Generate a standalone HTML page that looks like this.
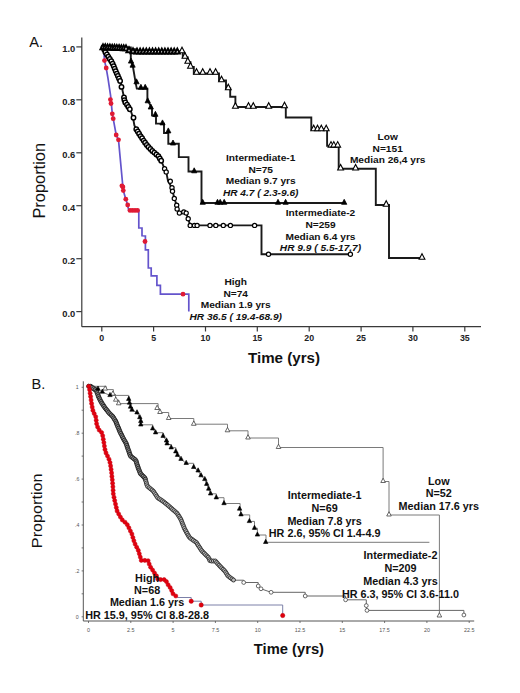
<!DOCTYPE html>
<html><head><meta charset="utf-8"><style>
html,body{margin:0;padding:0;background:#fff;}
svg{display:block;}
text{font-family:"Liberation Sans", sans-serif;}
</style></head><body>
<svg width="520" height="693" viewBox="0 0 520 693">
<rect width="520" height="693" fill="#fff"/>
<line x1="81.8" y1="37.5" x2="81.8" y2="326.7" stroke="#3a3a3a" stroke-width="1.2"/>
<line x1="81.8" y1="326.7" x2="481.0" y2="326.7" stroke="#3a3a3a" stroke-width="1.2"/>
<line x1="76.3" y1="311.6" x2="81.8" y2="311.6" stroke="#3a3a3a" stroke-width="1.2"/>
<text x="75.3" y="316.6" font-size="9.6" font-weight="bold" font-style="normal" text-anchor="end" fill="#222" textLength="13.0" lengthAdjust="spacingAndGlyphs">0.0</text>
<line x1="76.3" y1="258.7" x2="81.8" y2="258.7" stroke="#3a3a3a" stroke-width="1.2"/>
<text x="75.3" y="263.7" font-size="9.6" font-weight="bold" font-style="normal" text-anchor="end" fill="#222" textLength="13.0" lengthAdjust="spacingAndGlyphs">0.2</text>
<line x1="76.3" y1="205.7" x2="81.8" y2="205.7" stroke="#3a3a3a" stroke-width="1.2"/>
<text x="75.3" y="210.7" font-size="9.6" font-weight="bold" font-style="normal" text-anchor="end" fill="#222" textLength="13.0" lengthAdjust="spacingAndGlyphs">0.4</text>
<line x1="76.3" y1="152.8" x2="81.8" y2="152.8" stroke="#3a3a3a" stroke-width="1.2"/>
<text x="75.3" y="157.8" font-size="9.6" font-weight="bold" font-style="normal" text-anchor="end" fill="#222" textLength="13.0" lengthAdjust="spacingAndGlyphs">0.6</text>
<line x1="76.3" y1="99.8" x2="81.8" y2="99.8" stroke="#3a3a3a" stroke-width="1.2"/>
<text x="75.3" y="104.8" font-size="9.6" font-weight="bold" font-style="normal" text-anchor="end" fill="#222" textLength="13.0" lengthAdjust="spacingAndGlyphs">0.8</text>
<line x1="76.3" y1="46.9" x2="81.8" y2="46.9" stroke="#3a3a3a" stroke-width="1.2"/>
<text x="75.3" y="51.9" font-size="9.6" font-weight="bold" font-style="normal" text-anchor="end" fill="#222" textLength="13.0" lengthAdjust="spacingAndGlyphs">1.0</text>
<line x1="101.8" y1="326.7" x2="101.8" y2="331.5" stroke="#3a3a3a" stroke-width="1.2"/>
<text x="101.8" y="341.3" font-size="8.8" font-weight="bold" font-style="normal" text-anchor="middle" fill="#222">0</text>
<line x1="153.6" y1="326.7" x2="153.6" y2="331.5" stroke="#3a3a3a" stroke-width="1.2"/>
<text x="153.6" y="341.3" font-size="8.8" font-weight="bold" font-style="normal" text-anchor="middle" fill="#222">5</text>
<line x1="205.5" y1="326.7" x2="205.5" y2="331.5" stroke="#3a3a3a" stroke-width="1.2"/>
<text x="205.5" y="341.3" font-size="8.8" font-weight="bold" font-style="normal" text-anchor="middle" fill="#222">10</text>
<line x1="257.3" y1="326.7" x2="257.3" y2="331.5" stroke="#3a3a3a" stroke-width="1.2"/>
<text x="257.3" y="341.3" font-size="8.8" font-weight="bold" font-style="normal" text-anchor="middle" fill="#222">15</text>
<line x1="309.2" y1="326.7" x2="309.2" y2="331.5" stroke="#3a3a3a" stroke-width="1.2"/>
<text x="309.2" y="341.3" font-size="8.8" font-weight="bold" font-style="normal" text-anchor="middle" fill="#222">20</text>
<line x1="361.1" y1="326.7" x2="361.1" y2="331.5" stroke="#3a3a3a" stroke-width="1.2"/>
<text x="361.1" y="341.3" font-size="8.8" font-weight="bold" font-style="normal" text-anchor="middle" fill="#222">25</text>
<line x1="412.9" y1="326.7" x2="412.9" y2="331.5" stroke="#3a3a3a" stroke-width="1.2"/>
<text x="412.9" y="341.3" font-size="8.8" font-weight="bold" font-style="normal" text-anchor="middle" fill="#222">30</text>
<line x1="464.8" y1="326.7" x2="464.8" y2="331.5" stroke="#3a3a3a" stroke-width="1.2"/>
<text x="464.8" y="341.3" font-size="8.8" font-weight="bold" font-style="normal" text-anchor="middle" fill="#222">35</text>
<text x="29.2" y="46.9" font-size="14.6" font-weight="normal" font-style="normal" text-anchor="start" fill="#111">A.</text>
<text x="0.0" y="0.0" font-size="16.2" font-weight="normal" font-style="normal" text-anchor="middle" fill="#111" textLength="75.6" lengthAdjust="spacingAndGlyphs" transform="translate(45.2 180.8) rotate(-90)">Proportion</text>
<text x="248.0" y="363.4" font-size="14" font-weight="bold" font-style="normal" text-anchor="start" fill="#111" textLength="72.0" lengthAdjust="spacingAndGlyphs">Time (yrs)</text>
<path d="M103.5 47.2 L112.0 47.2 L112.0 47.8 L122.0 47.8 L122.0 49.2 L135.0 49.2 L135.0 51.4 L182.3 51.4 L182.3 51.6 L182.8 51.6 L182.8 57.2 L187.6 57.2 L187.6 62.2 L190.5 62.2 L190.5 67.0 L193.8 67.0 L193.8 73.5 L219.0 73.5 L219.0 80.4 L226.0 80.4 L226.0 88.5 L230.2 88.5 L230.2 96.7 L235.4 96.7 L235.4 107.0 L285.8 107.0 L285.8 117.5 L311.3 117.5 L311.3 129.4 L327.1 129.4 L327.1 145.8 L338.7 145.8 L338.7 168.8 L375.8 168.8 L375.8 205.0 L389.0 205.0 L389.0 258.0 L422.0 258.0" fill="none" stroke="#1a1a1a" stroke-width="1.9"/>
<path d="M103.5 47.2 L130.8 47.4 L130.8 60.0 L133.0 67.0 L135.7 83.2 L136.8 88.6 L147.4 88.6 L147.4 100.0 L152.0 108.0 L152.0 115.5 L156.0 116.5 L156.0 123.6 L164.0 123.6 L164.0 133.0 L168.3 133.0 L168.3 143.7 L178.8 143.7 L178.8 157.1 L188.5 157.1 L188.5 171.5 L201.5 171.5 L201.5 203.0 L345.4 203.0" fill="none" stroke="#1a1a1a" stroke-width="1.9"/>
<path d="M103.5 47.2 L104.9 51.5 L112.3 62.8 L116.2 72.3 L120.5 81.8 L121.8 87.0 L124.0 97.4 L124.6 101.5 L126.9 104.6 L130.8 110.8 L133.1 118.0 L134.4 125.4 L136.3 129.2 L140.5 136.0 L145.0 142.7 L149.0 147.5 L152.7 151.3 L158.5 156.2 L161.3 161.0 L164.6 168.8 L166.2 171.9 L168.0 181.0 L172.0 188.0 L174.3 198.4 L176.7 205.2 L179.4 213.0 L183.5 211.5 L186.2 213.1 L188.2 218.7 L190.2 225.4 L261.5 225.4 L261.5 254.2 L350.4 254.2" fill="none" stroke="#1a1a1a" stroke-width="1.9"/>
<path d="M103.5 47.2 L104.5 60.6 L106.2 68.0 L108.0 78.4 L110.6 95.7 L112.3 113.8 L113.2 118.7 L116.2 135.0 L118.5 139.8 L122.9 187.0 L123.3 190.6 L125.8 199.2 L127.7 205.0 L128.7 210.4 L138.8 210.4 L138.8 228.0 L142.0 228.0 L142.0 235.8 L145.4 236.0 L145.4 249.8 L148.3 249.8 L148.3 268.0 L151.2 268.0 L151.2 275.8 L156.9 275.8 L156.9 285.4 L160.4 285.4 L160.4 294.2 L188.8 294.2 L188.8 311.6" fill="none" stroke="#6454cc" stroke-width="1.7"/>
<circle cx="103.5" cy="47.2" r="2.2" fill="#fff" stroke="#000" stroke-width="1.5"/>
<circle cx="104.3" cy="49.8" r="2.2" fill="#fff" stroke="#000" stroke-width="1.5"/>
<circle cx="105.4" cy="52.2" r="2.2" fill="#fff" stroke="#000" stroke-width="1.5"/>
<circle cx="106.9" cy="54.5" r="2.2" fill="#fff" stroke="#000" stroke-width="1.5"/>
<circle cx="108.3" cy="56.8" r="2.2" fill="#fff" stroke="#000" stroke-width="1.5"/>
<circle cx="109.8" cy="59.0" r="2.2" fill="#fff" stroke="#000" stroke-width="1.5"/>
<circle cx="111.3" cy="61.3" r="2.2" fill="#fff" stroke="#000" stroke-width="1.5"/>
<circle cx="112.6" cy="63.6" r="2.2" fill="#fff" stroke="#000" stroke-width="1.5"/>
<circle cx="113.7" cy="66.1" r="2.2" fill="#fff" stroke="#000" stroke-width="1.5"/>
<circle cx="114.7" cy="68.6" r="2.2" fill="#fff" stroke="#000" stroke-width="1.5"/>
<circle cx="115.7" cy="71.1" r="2.2" fill="#fff" stroke="#000" stroke-width="1.5"/>
<circle cx="116.8" cy="73.6" r="2.2" fill="#fff" stroke="#000" stroke-width="1.5"/>
<circle cx="117.9" cy="76.0" r="2.2" fill="#fff" stroke="#000" stroke-width="1.5"/>
<circle cx="119.0" cy="78.5" r="2.2" fill="#fff" stroke="#000" stroke-width="1.5"/>
<circle cx="120.1" cy="81.0" r="2.2" fill="#fff" stroke="#000" stroke-width="1.5"/>
<circle cx="121.5" cy="86.9" r="2.2" fill="#fff" stroke="#000" stroke-width="1.5"/>
<circle cx="124.0" cy="97.4" r="2.2" fill="#fff" stroke="#000" stroke-width="1.5"/>
<circle cx="124.4" cy="100.1" r="2.2" fill="#fff" stroke="#000" stroke-width="1.5"/>
<circle cx="125.3" cy="102.5" r="2.2" fill="#fff" stroke="#000" stroke-width="1.5"/>
<circle cx="127.0" cy="104.7" r="2.2" fill="#fff" stroke="#000" stroke-width="1.5"/>
<circle cx="128.4" cy="107.0" r="2.2" fill="#fff" stroke="#000" stroke-width="1.5"/>
<circle cx="129.8" cy="109.3" r="2.2" fill="#fff" stroke="#000" stroke-width="1.5"/>
<circle cx="133.5" cy="117.7" r="2.2" fill="#fff" stroke="#000" stroke-width="1.5"/>
<circle cx="136.3" cy="129.2" r="2.2" fill="#fff" stroke="#000" stroke-width="1.5"/>
<circle cx="137.7" cy="131.5" r="2.2" fill="#fff" stroke="#000" stroke-width="1.5"/>
<circle cx="139.1" cy="133.8" r="2.2" fill="#fff" stroke="#000" stroke-width="1.5"/>
<circle cx="140.6" cy="136.1" r="2.2" fill="#fff" stroke="#000" stroke-width="1.5"/>
<circle cx="142.1" cy="138.3" r="2.2" fill="#fff" stroke="#000" stroke-width="1.5"/>
<circle cx="143.6" cy="140.6" r="2.2" fill="#fff" stroke="#000" stroke-width="1.5"/>
<circle cx="145.1" cy="142.8" r="2.2" fill="#fff" stroke="#000" stroke-width="1.5"/>
<circle cx="146.8" cy="144.9" r="2.2" fill="#fff" stroke="#000" stroke-width="1.5"/>
<circle cx="148.5" cy="147.0" r="2.2" fill="#fff" stroke="#000" stroke-width="1.5"/>
<circle cx="150.4" cy="148.9" r="2.2" fill="#fff" stroke="#000" stroke-width="1.5"/>
<circle cx="152.3" cy="150.9" r="2.2" fill="#fff" stroke="#000" stroke-width="1.5"/>
<circle cx="154.3" cy="152.6" r="2.2" fill="#fff" stroke="#000" stroke-width="1.5"/>
<circle cx="156.4" cy="154.4" r="2.2" fill="#fff" stroke="#000" stroke-width="1.5"/>
<circle cx="158.4" cy="156.1" r="2.2" fill="#fff" stroke="#000" stroke-width="1.5"/>
<circle cx="159.8" cy="158.4" r="2.2" fill="#fff" stroke="#000" stroke-width="1.5"/>
<circle cx="161.2" cy="160.8" r="2.2" fill="#fff" stroke="#000" stroke-width="1.5"/>
<circle cx="164.6" cy="168.8" r="2.1" fill="#fff" stroke="#000" stroke-width="1.2"/>
<circle cx="166.2" cy="171.9" r="2.1" fill="#fff" stroke="#000" stroke-width="1.2"/>
<circle cx="170.3" cy="181.3" r="2.1" fill="#fff" stroke="#000" stroke-width="1.2"/>
<circle cx="172.0" cy="187.7" r="2.1" fill="#fff" stroke="#000" stroke-width="1.2"/>
<circle cx="172.5" cy="191.3" r="2.1" fill="#fff" stroke="#000" stroke-width="1.2"/>
<circle cx="174.3" cy="198.4" r="2.1" fill="#fff" stroke="#000" stroke-width="1.2"/>
<circle cx="176.7" cy="205.2" r="2.1" fill="#fff" stroke="#000" stroke-width="1.2"/>
<circle cx="177.1" cy="209.1" r="2.1" fill="#fff" stroke="#000" stroke-width="1.2"/>
<circle cx="179.4" cy="213.1" r="2.1" fill="#fff" stroke="#000" stroke-width="1.2"/>
<circle cx="183.8" cy="211.9" r="2.1" fill="#fff" stroke="#000" stroke-width="1.2"/>
<circle cx="186.2" cy="213.1" r="2.1" fill="#fff" stroke="#000" stroke-width="1.2"/>
<circle cx="188.2" cy="218.7" r="2.1" fill="#fff" stroke="#000" stroke-width="1.2"/>
<circle cx="190.2" cy="225.4" r="2.1" fill="#fff" stroke="#000" stroke-width="1.2"/>
<circle cx="194.4" cy="225.4" r="2.1" fill="#fff" stroke="#000" stroke-width="1.2"/>
<circle cx="197.1" cy="225.4" r="2.1" fill="#fff" stroke="#000" stroke-width="1.2"/>
<circle cx="210.0" cy="225.4" r="2.1" fill="#fff" stroke="#000" stroke-width="1.2"/>
<circle cx="215.8" cy="225.4" r="2.1" fill="#fff" stroke="#000" stroke-width="1.2"/>
<circle cx="223.3" cy="225.4" r="2.1" fill="#fff" stroke="#000" stroke-width="1.2"/>
<circle cx="230.4" cy="225.4" r="2.1" fill="#fff" stroke="#000" stroke-width="1.2"/>
<circle cx="254.6" cy="225.4" r="2.1" fill="#fff" stroke="#000" stroke-width="1.2"/>
<circle cx="268.5" cy="254.2" r="2.1" fill="#fff" stroke="#000" stroke-width="1.2"/>
<circle cx="350.4" cy="254.2" r="2.1" fill="#fff" stroke="#000" stroke-width="1.2"/>
<polygon points="100.4,49.2 105.6,49.2 103.0,44.2" fill="#fff" stroke="#000" stroke-width="1.9"/>
<polygon points="102.7,49.3 107.9,49.3 105.3,44.4" fill="#fff" stroke="#000" stroke-width="1.9"/>
<polygon points="105.0,49.4 110.2,49.4 107.6,44.5" fill="#fff" stroke="#000" stroke-width="1.9"/>
<polygon points="107.3,49.5 112.5,49.5 109.9,44.6" fill="#fff" stroke="#000" stroke-width="1.9"/>
<polygon points="109.6,49.7 114.8,49.7 112.2,44.7" fill="#fff" stroke="#000" stroke-width="1.9"/>
<polygon points="111.9,49.8 117.1,49.8 114.5,44.8" fill="#fff" stroke="#000" stroke-width="1.9"/>
<polygon points="114.2,49.9 119.4,49.9 116.8,45.0" fill="#fff" stroke="#000" stroke-width="1.9"/>
<polygon points="116.5,50.0 121.7,50.0 119.1,45.1" fill="#fff" stroke="#000" stroke-width="1.9"/>
<polygon points="118.8,50.1 124.0,50.1 121.4,45.2" fill="#fff" stroke="#000" stroke-width="1.9"/>
<polygon points="121.1,50.3 126.3,50.3 123.7,45.3" fill="#fff" stroke="#000" stroke-width="1.9"/>
<polygon points="123.4,50.4 128.6,50.4 126.0,45.4" fill="#fff" stroke="#000" stroke-width="1.9"/>
<polygon points="126.4,52.2 131.6,52.2 129.0,47.2" fill="#fff" stroke="#000" stroke-width="1.9"/>
<polygon points="130.4,53.2 135.6,53.2 133.0,48.2" fill="#fff" stroke="#000" stroke-width="1.9"/>
<polygon points="134.4,53.5 139.6,53.5 137.0,48.5" fill="#fff" stroke="#000" stroke-width="1.9"/>
<polygon points="137.5,53.5 142.7,53.5 140.1,48.5" fill="#fff" stroke="#000" stroke-width="1.9"/>
<polygon points="140.6,53.5 145.8,53.5 143.2,48.5" fill="#fff" stroke="#000" stroke-width="1.9"/>
<polygon points="143.7,53.5 148.9,53.5 146.3,48.5" fill="#fff" stroke="#000" stroke-width="1.9"/>
<polygon points="146.8,53.5 152.0,53.5 149.4,48.5" fill="#fff" stroke="#000" stroke-width="1.9"/>
<polygon points="149.9,53.5 155.1,53.5 152.5,48.5" fill="#fff" stroke="#000" stroke-width="1.9"/>
<polygon points="153.0,53.5 158.2,53.5 155.6,48.5" fill="#fff" stroke="#000" stroke-width="1.9"/>
<polygon points="156.1,53.5 161.3,53.5 158.7,48.5" fill="#fff" stroke="#000" stroke-width="1.9"/>
<polygon points="159.2,53.5 164.4,53.5 161.8,48.5" fill="#fff" stroke="#000" stroke-width="1.9"/>
<polygon points="162.3,53.5 167.5,53.5 164.9,48.5" fill="#fff" stroke="#000" stroke-width="1.9"/>
<polygon points="165.4,53.5 170.6,53.5 168.0,48.5" fill="#fff" stroke="#000" stroke-width="1.9"/>
<polygon points="168.5,53.5 173.7,53.5 171.1,48.5" fill="#fff" stroke="#000" stroke-width="1.9"/>
<polygon points="171.6,53.5 176.8,53.5 174.2,48.5" fill="#fff" stroke="#000" stroke-width="1.9"/>
<polygon points="174.7,53.5 179.9,53.5 177.3,48.5" fill="#fff" stroke="#000" stroke-width="1.9"/>
<polygon points="179.1,52.8 184.9,52.8 182.0,47.3" fill="#fff" stroke="#000" stroke-width="1.1"/>
<polygon points="182.1,58.3 187.9,58.3 185.0,52.8" fill="#fff" stroke="#000" stroke-width="1.1"/>
<polygon points="184.9,63.3 190.7,63.3 187.8,57.8" fill="#fff" stroke="#000" stroke-width="1.1"/>
<polygon points="187.6,68.3 193.4,68.3 190.5,62.8" fill="#fff" stroke="#000" stroke-width="1.1"/>
<polygon points="193.6,74.3 199.4,74.3 196.5,68.8" fill="#fff" stroke="#000" stroke-width="1.1"/>
<polygon points="199.8,74.3 205.6,74.3 202.7,68.8" fill="#fff" stroke="#000" stroke-width="1.1"/>
<polygon points="207.1,74.3 212.9,74.3 210.0,68.8" fill="#fff" stroke="#000" stroke-width="1.1"/>
<polygon points="212.7,74.3 218.5,74.3 215.6,68.8" fill="#fff" stroke="#000" stroke-width="1.1"/>
<polygon points="218.6,81.8 224.4,81.8 221.5,76.3" fill="#fff" stroke="#000" stroke-width="1.1"/>
<polygon points="225.4,89.8 231.2,89.8 228.3,84.3" fill="#fff" stroke="#000" stroke-width="1.1"/>
<polygon points="232.5,108.3 238.3,108.3 235.4,102.8" fill="#fff" stroke="#000" stroke-width="1.1"/>
<polygon points="245.6,108.3 251.4,108.3 248.5,102.8" fill="#fff" stroke="#000" stroke-width="1.1"/>
<polygon points="250.4,108.3 256.2,108.3 253.3,102.8" fill="#fff" stroke="#000" stroke-width="1.1"/>
<polygon points="265.8,108.3 271.6,108.3 268.7,102.8" fill="#fff" stroke="#000" stroke-width="1.1"/>
<polygon points="281.6,107.8 287.4,107.8 284.5,102.3" fill="#fff" stroke="#000" stroke-width="1.1"/>
<polygon points="310.8,130.8 316.6,130.8 313.7,125.3" fill="#fff" stroke="#000" stroke-width="1.1"/>
<polygon points="314.6,130.8 320.4,130.8 317.5,125.3" fill="#fff" stroke="#000" stroke-width="1.1"/>
<polygon points="318.4,130.8 324.2,130.8 321.3,125.3" fill="#fff" stroke="#000" stroke-width="1.1"/>
<polygon points="323.3,130.8 329.1,130.8 326.2,125.3" fill="#fff" stroke="#000" stroke-width="1.1"/>
<polygon points="328.1,147.1 333.9,147.1 331.0,141.6" fill="#fff" stroke="#000" stroke-width="1.1"/>
<polygon points="330.9,147.1 336.7,147.1 333.8,141.6" fill="#fff" stroke="#000" stroke-width="1.1"/>
<polygon points="334.8,147.1 340.6,147.1 337.7,141.6" fill="#fff" stroke="#000" stroke-width="1.1"/>
<polygon points="337.7,170.0 343.5,170.0 340.6,164.5" fill="#fff" stroke="#000" stroke-width="1.1"/>
<polygon points="352.7,170.0 358.5,170.0 355.6,164.5" fill="#fff" stroke="#000" stroke-width="1.1"/>
<polygon points="383.3,206.3 389.1,206.3 386.2,200.8" fill="#fff" stroke="#000" stroke-width="1.1"/>
<polygon points="419.1,259.3 424.9,259.3 422.0,253.8" fill="#fff" stroke="#000" stroke-width="1.1"/>
<polygon points="128.4,63.1 133.6,63.1 131.0,58.1" fill="#000" stroke="#000" stroke-width="0.8"/>
<polygon points="130.0,67.2 135.2,67.2 132.6,62.2" fill="#000" stroke="#000" stroke-width="0.8"/>
<polygon points="133.9,83.8 139.1,83.8 136.5,78.8" fill="#000" stroke="#000" stroke-width="0.8"/>
<polygon points="138.3,89.3 143.5,89.3 140.9,84.3" fill="#000" stroke="#000" stroke-width="0.8"/>
<polygon points="142.6,89.3 147.8,89.3 145.2,84.3" fill="#000" stroke="#000" stroke-width="0.8"/>
<polygon points="145.1,102.8 150.3,102.8 147.7,97.8" fill="#000" stroke="#000" stroke-width="0.8"/>
<polygon points="148.2,109.0 153.4,109.0 150.8,104.0" fill="#000" stroke="#000" stroke-width="0.8"/>
<polygon points="152.8,116.3 158.0,116.3 155.4,111.3" fill="#000" stroke="#000" stroke-width="0.8"/>
<polygon points="159.9,124.9 165.1,124.9 162.5,119.9" fill="#000" stroke="#000" stroke-width="0.8"/>
<polygon points="165.7,132.9 170.9,132.9 168.3,127.9" fill="#000" stroke="#000" stroke-width="0.8"/>
<polygon points="170.4,145.0 175.6,145.0 173.0,140.0" fill="#000" stroke="#000" stroke-width="0.8"/>
<polygon points="191.6,172.8 196.8,172.8 194.2,167.8" fill="#000" stroke="#000" stroke-width="0.8"/>
<polygon points="200.1,204.3 205.3,204.3 202.7,199.3" fill="#000" stroke="#000" stroke-width="0.8"/>
<polygon points="214.9,204.3 220.1,204.3 217.5,199.3" fill="#000" stroke="#000" stroke-width="0.8"/>
<polygon points="217.6,204.3 222.8,204.3 220.2,199.3" fill="#000" stroke="#000" stroke-width="0.8"/>
<polygon points="221.6,204.3 226.8,204.3 224.2,199.3" fill="#000" stroke="#000" stroke-width="0.8"/>
<polygon points="275.4,204.3 280.6,204.3 278.0,199.3" fill="#000" stroke="#000" stroke-width="0.8"/>
<polygon points="283.0,204.3 288.2,204.3 285.6,199.3" fill="#000" stroke="#000" stroke-width="0.8"/>
<polygon points="341.6,204.3 346.8,204.3 344.2,199.3" fill="#000" stroke="#000" stroke-width="0.8"/>
<circle cx="104.5" cy="60.6" r="2.4" fill="#e01a34" stroke="none" stroke-width="1"/>
<circle cx="106.2" cy="68.0" r="2.4" fill="#e01a34" stroke="none" stroke-width="1"/>
<circle cx="110.4" cy="99.6" r="2.4" fill="#e01a34" stroke="none" stroke-width="1"/>
<circle cx="111.0" cy="103.5" r="2.4" fill="#e01a34" stroke="none" stroke-width="1"/>
<circle cx="112.3" cy="113.8" r="2.4" fill="#e01a34" stroke="none" stroke-width="1"/>
<circle cx="113.2" cy="118.7" r="2.4" fill="#e01a34" stroke="none" stroke-width="1"/>
<circle cx="116.2" cy="135.0" r="2.4" fill="#e01a34" stroke="none" stroke-width="1"/>
<circle cx="118.5" cy="139.8" r="2.4" fill="#e01a34" stroke="none" stroke-width="1"/>
<circle cx="122.9" cy="187.0" r="2.4" fill="#e01a34" stroke="none" stroke-width="1"/>
<circle cx="121.9" cy="185.8" r="2.4" fill="#e01a34" stroke="none" stroke-width="1"/>
<circle cx="123.3" cy="190.6" r="2.4" fill="#e01a34" stroke="none" stroke-width="1"/>
<circle cx="125.8" cy="199.2" r="2.4" fill="#e01a34" stroke="none" stroke-width="1"/>
<circle cx="127.7" cy="205.0" r="2.4" fill="#e01a34" stroke="none" stroke-width="1"/>
<circle cx="130.0" cy="210.4" r="2.4" fill="#e01a34" stroke="none" stroke-width="1"/>
<circle cx="132.5" cy="210.4" r="2.4" fill="#e01a34" stroke="none" stroke-width="1"/>
<circle cx="135.0" cy="210.4" r="2.4" fill="#e01a34" stroke="none" stroke-width="1"/>
<circle cx="137.5" cy="210.4" r="2.4" fill="#e01a34" stroke="none" stroke-width="1"/>
<circle cx="145.0" cy="241.5" r="2.4" fill="#e01a34" stroke="none" stroke-width="1"/>
<circle cx="183.0" cy="294.2" r="2.4" fill="#e01a34" stroke="none" stroke-width="1"/>
<text x="260.7" y="160.8" font-size="9.4" font-weight="bold" font-style="normal" text-anchor="middle" fill="#111" textLength="69.4" lengthAdjust="spacingAndGlyphs">Intermediate-1</text>
<text x="260.7" y="172.5" font-size="9.4" font-weight="bold" font-style="normal" text-anchor="middle" fill="#111" textLength="24.6" lengthAdjust="spacingAndGlyphs">N=75</text>
<text x="260.7" y="184.2" font-size="9.4" font-weight="bold" font-style="normal" text-anchor="middle" fill="#111" textLength="70.0" lengthAdjust="spacingAndGlyphs">Median 9.7 yrs</text>
<text x="260.7" y="195.9" font-size="9.4" font-weight="bold" font-style="italic" text-anchor="middle" fill="#111" textLength="75.6" lengthAdjust="spacingAndGlyphs">HR 4.7 ( 2.3-9.6)</text>
<text x="387.7" y="140.1" font-size="9.4" font-weight="bold" font-style="normal" text-anchor="middle" fill="#111" textLength="20.3" lengthAdjust="spacingAndGlyphs">Low</text>
<text x="387.7" y="151.6" font-size="9.4" font-weight="bold" font-style="normal" text-anchor="middle" fill="#111" textLength="30.2" lengthAdjust="spacingAndGlyphs">N=151</text>
<text x="387.7" y="163.1" font-size="9.4" font-weight="bold" font-style="normal" text-anchor="middle" fill="#111" textLength="75.6" lengthAdjust="spacingAndGlyphs">Median 26,4 yrs</text>
<text x="320.5" y="215.9" font-size="9.4" font-weight="bold" font-style="normal" text-anchor="middle" fill="#111" textLength="69.4" lengthAdjust="spacingAndGlyphs">Intermediate-2</text>
<text x="320.5" y="227.7" font-size="9.4" font-weight="bold" font-style="normal" text-anchor="middle" fill="#111" textLength="30.2" lengthAdjust="spacingAndGlyphs">N=259</text>
<text x="320.5" y="239.5" font-size="9.4" font-weight="bold" font-style="normal" text-anchor="middle" fill="#111" textLength="70.0" lengthAdjust="spacingAndGlyphs">Median 6.4 yrs</text>
<text x="320.5" y="251.3" font-size="9.4" font-weight="bold" font-style="italic" text-anchor="middle" fill="#111" textLength="81.3" lengthAdjust="spacingAndGlyphs">HR 9.9 ( 5.5-17,7)</text>
<text x="235.7" y="284.6" font-size="9.4" font-weight="bold" font-style="normal" text-anchor="middle" fill="#111" textLength="22.6" lengthAdjust="spacingAndGlyphs">High</text>
<text x="235.7" y="296.5" font-size="9.4" font-weight="bold" font-style="normal" text-anchor="middle" fill="#111" textLength="24.6" lengthAdjust="spacingAndGlyphs">N=74</text>
<text x="235.7" y="308.4" font-size="9.4" font-weight="bold" font-style="normal" text-anchor="middle" fill="#111" textLength="70.0" lengthAdjust="spacingAndGlyphs">Median 1.9 yrs</text>
<text x="235.7" y="320.3" font-size="9.4" font-weight="bold" font-style="italic" text-anchor="middle" fill="#111" textLength="92.5" lengthAdjust="spacingAndGlyphs">HR 36.5 ( 19.4-68.9)</text>
<line x1="83.3" y1="381.3" x2="83.3" y2="621.0" stroke="#555" stroke-width="1"/>
<line x1="83.3" y1="621.0" x2="474.2" y2="621.0" stroke="#555" stroke-width="1"/>
<line x1="81.6" y1="616.8" x2="83.3" y2="616.8" stroke="#555" stroke-width="0.8"/>
<line x1="81.6" y1="593.8" x2="83.3" y2="593.8" stroke="#555" stroke-width="0.8"/>
<line x1="81.6" y1="570.9" x2="83.3" y2="570.9" stroke="#555" stroke-width="0.8"/>
<line x1="81.6" y1="547.9" x2="83.3" y2="547.9" stroke="#555" stroke-width="0.8"/>
<line x1="81.6" y1="525.0" x2="83.3" y2="525.0" stroke="#555" stroke-width="0.8"/>
<line x1="81.6" y1="502.0" x2="83.3" y2="502.0" stroke="#555" stroke-width="0.8"/>
<line x1="81.6" y1="479.1" x2="83.3" y2="479.1" stroke="#555" stroke-width="0.8"/>
<line x1="81.6" y1="456.1" x2="83.3" y2="456.1" stroke="#555" stroke-width="0.8"/>
<line x1="81.6" y1="433.2" x2="83.3" y2="433.2" stroke="#555" stroke-width="0.8"/>
<line x1="81.6" y1="410.2" x2="83.3" y2="410.2" stroke="#555" stroke-width="0.8"/>
<line x1="81.6" y1="387.3" x2="83.3" y2="387.3" stroke="#555" stroke-width="0.8"/>
<text x="77.2" y="618.7" font-size="5.2" font-weight="normal" font-style="normal" text-anchor="middle" fill="#555">0</text>
<text x="77.2" y="572.8" font-size="5.2" font-weight="normal" font-style="normal" text-anchor="middle" fill="#555">.2</text>
<text x="77.2" y="526.9" font-size="5.2" font-weight="normal" font-style="normal" text-anchor="middle" fill="#555">.4</text>
<text x="77.2" y="481.0" font-size="5.2" font-weight="normal" font-style="normal" text-anchor="middle" fill="#555">.6</text>
<text x="77.2" y="435.1" font-size="5.2" font-weight="normal" font-style="normal" text-anchor="middle" fill="#555">.8</text>
<text x="77.2" y="389.2" font-size="5.2" font-weight="normal" font-style="normal" text-anchor="middle" fill="#555">1</text>
<line x1="88.5" y1="621.0" x2="88.5" y2="623" stroke="#555" stroke-width="0.8"/>
<text x="88.5" y="632.2" font-size="5.4" font-weight="normal" font-style="normal" text-anchor="middle" fill="#555">0</text>
<line x1="130.8" y1="621.0" x2="130.8" y2="623" stroke="#555" stroke-width="0.8"/>
<text x="130.8" y="632.2" font-size="5.4" font-weight="normal" font-style="normal" text-anchor="middle" fill="#555">2.5</text>
<line x1="173.1" y1="621.0" x2="173.1" y2="623" stroke="#555" stroke-width="0.8"/>
<text x="173.1" y="632.2" font-size="5.4" font-weight="normal" font-style="normal" text-anchor="middle" fill="#555">5</text>
<line x1="215.4" y1="621.0" x2="215.4" y2="623" stroke="#555" stroke-width="0.8"/>
<text x="215.4" y="632.2" font-size="5.4" font-weight="normal" font-style="normal" text-anchor="middle" fill="#555">7.5</text>
<line x1="257.7" y1="621.0" x2="257.7" y2="623" stroke="#555" stroke-width="0.8"/>
<text x="257.7" y="632.2" font-size="5.4" font-weight="normal" font-style="normal" text-anchor="middle" fill="#555">10</text>
<line x1="300.0" y1="621.0" x2="300.0" y2="623" stroke="#555" stroke-width="0.8"/>
<text x="300.0" y="632.2" font-size="5.4" font-weight="normal" font-style="normal" text-anchor="middle" fill="#555">12.5</text>
<line x1="342.3" y1="621.0" x2="342.3" y2="623" stroke="#555" stroke-width="0.8"/>
<text x="342.3" y="632.2" font-size="5.4" font-weight="normal" font-style="normal" text-anchor="middle" fill="#555">15</text>
<line x1="384.6" y1="621.0" x2="384.6" y2="623" stroke="#555" stroke-width="0.8"/>
<text x="384.6" y="632.2" font-size="5.4" font-weight="normal" font-style="normal" text-anchor="middle" fill="#555">17.5</text>
<line x1="426.9" y1="621.0" x2="426.9" y2="623" stroke="#555" stroke-width="0.8"/>
<text x="426.9" y="632.2" font-size="5.4" font-weight="normal" font-style="normal" text-anchor="middle" fill="#555">20</text>
<line x1="469.2" y1="621.0" x2="469.2" y2="623" stroke="#555" stroke-width="0.8"/>
<text x="469.2" y="632.2" font-size="5.4" font-weight="normal" font-style="normal" text-anchor="middle" fill="#555">22.5</text>
<text x="31.5" y="388.8" font-size="14.6" font-weight="normal" font-style="normal" text-anchor="start" fill="#111">B.</text>
<text x="0.0" y="0.0" font-size="14.8" font-weight="normal" font-style="normal" text-anchor="middle" fill="#111" textLength="74.7" lengthAdjust="spacingAndGlyphs" transform="translate(41.9 510.8) rotate(-90)">Proportion</text>
<text x="253.8" y="653.8" font-size="14.8" font-weight="bold" font-style="normal" text-anchor="start" fill="#111" textLength="70.2" lengthAdjust="spacingAndGlyphs">Time (yrs)</text>
<path d="M88.8 386.3 L106.2 386.3 L106.2 389.6 L113.4 389.6 L113.4 394.5 L115.5 394.5 L115.5 400.0 L118.7 400.0 L118.7 403.6 L158.1 403.6 L158.1 408.8 L160.0 408.8 L160.0 412.5 L168.7 412.5 L168.7 418.5 L193.8 418.5 L193.8 424.2 L227.5 424.2 L227.5 430.8 L248.0 430.8 L248.0 438.0 L278.5 438.0 L278.5 447.5 L383.1 447.5 L383.1 481.5 L389.0 481.5 L389.0 515.0 L439.4 515.0 L439.4 616.0" fill="none" stroke="#7a7a7a" stroke-width="1"/>
<path d="M88.8 386.3 L95.0 386.3 L98.0 389.0 L102.3 392.0 L110.0 395.4 L128.8 395.4 L128.8 399.2 L129.5 403.0 L130.5 407.0 L132.0 410.0 L137.0 412.7 L139.8 417.5 L140.8 421.3 L140.8 424.8 L152.7 424.8 L152.7 428.7 L155.6 432.7 L163.1 432.7 L163.1 436.2 L166.5 440.8 L167.1 444.5 L171.2 444.5 L171.2 447.7 L175.8 447.7 L175.8 451.7 L177.5 455.2 L181.0 459.2 L186.2 463.3 L193.7 463.3 L193.7 467.3 L198.1 470.8 L201.0 475.6 L204.8 479.4 L206.7 484.2 L208.7 489.0 L210.6 493.8 L216.3 493.8 L216.3 497.7 L224.0 497.7 L224.0 503.5 L240.1 503.5 L240.1 509.0 L241.0 514.9 L249.7 514.9 L249.7 521.4 L254.5 521.4 L254.5 528.2 L257.4 528.2 L257.4 535.0 L266.0 535.0 L266.0 542.3 L429.4 542.3" fill="none" stroke="#7a7a7a" stroke-width="1"/>
<path d="M88.8 386.3 L90.8 386.4 L96.5 390.8 L98.5 396.5 L101.3 402.3 L105.2 408.1 L109.0 412.9 L112.9 416.7 L115.8 421.5 L117.7 426.3 L120.6 433.1 L123.5 438.8 L126.3 443.7 L127.7 448.1 L130.6 456.2 L135.8 460.2 L138.1 467.7 L140.4 473.5 L145.0 478.1 L147.3 486.2 L153.1 490.8 L157.7 497.7 L163.8 501.9 L169.6 506.7 L177.3 513.5 L180.8 519.2 L184.6 528.8 L189.4 537.5 L196.2 542.3 L201.9 551.0 L208.7 557.7 L210.0 561.0 L215.4 561.0 L219.2 565.4 L225.0 571.2 L227.9 575.9 L233.7 580.2 L243.7 580.2 L243.7 582.5 L258.2 582.5 L258.2 586.0 L261.0 588.8 L271.1 592.3 L305.2 592.3 L305.2 596.0 L345.6 596.0 L345.6 599.8 L366.3 599.8 L366.3 605.6 L367.0 610.4 L463.9 610.4 L463.9 615.0" fill="none" stroke="#666" stroke-width="1"/>
<path d="M88.8 386.3 L89.3 387.9 L90.3 394.6 L91.7 404.2 L93.2 411.9 L95.6 415.8 L96.6 423.5 L98.3 429.2 L102.2 433.1 L103.6 440.8 L105.3 451.5 L109.8 460.8 L111.5 472.3 L112.7 483.8 L113.3 494.2 L115.6 504.6 L117.3 511.5 L121.9 519.6 L126.9 523.8 L131.7 533.5 L134.6 543.1 L138.5 550.8 L141.3 560.4 L148.0 560.4 L150.0 566.2 L153.8 572.0 L157.7 577.7 L157.7 579.6 L165.4 579.6 L167.3 583.5 L171.2 589.2 L173.1 594.0 L177.9 597.5 L191.2 597.5 L191.2 601.2 L201.2 601.2 L201.2 605.0 L282.7 605.0 L282.7 615.5" fill="none" stroke="#7c80a8" stroke-width="1"/>
<circle cx="88.8" cy="386.3" r="2.1" fill="#8c8c8c" stroke="#262626" stroke-width="1.0"/>
<circle cx="90.7" cy="386.4" r="2.1" fill="#8c8c8c" stroke="#262626" stroke-width="1.0"/>
<circle cx="92.2" cy="387.5" r="2.1" fill="#8c8c8c" stroke="#262626" stroke-width="1.0"/>
<circle cx="93.7" cy="388.7" r="2.1" fill="#8c8c8c" stroke="#262626" stroke-width="1.0"/>
<circle cx="95.2" cy="389.8" r="2.1" fill="#8c8c8c" stroke="#262626" stroke-width="1.0"/>
<circle cx="96.6" cy="391.1" r="2.1" fill="#8c8c8c" stroke="#262626" stroke-width="1.0"/>
<circle cx="97.2" cy="392.9" r="2.1" fill="#8c8c8c" stroke="#262626" stroke-width="1.0"/>
<circle cx="97.9" cy="394.7" r="2.1" fill="#8c8c8c" stroke="#262626" stroke-width="1.0"/>
<circle cx="98.5" cy="396.5" r="2.1" fill="#8c8c8c" stroke="#262626" stroke-width="1.0"/>
<circle cx="99.3" cy="398.2" r="2.1" fill="#8c8c8c" stroke="#262626" stroke-width="1.0"/>
<circle cx="100.1" cy="399.9" r="2.1" fill="#8c8c8c" stroke="#262626" stroke-width="1.0"/>
<circle cx="101.0" cy="401.6" r="2.1" fill="#8c8c8c" stroke="#262626" stroke-width="1.0"/>
<circle cx="101.9" cy="403.2" r="2.1" fill="#8c8c8c" stroke="#262626" stroke-width="1.0"/>
<circle cx="103.0" cy="404.8" r="2.1" fill="#8c8c8c" stroke="#262626" stroke-width="1.0"/>
<circle cx="104.0" cy="406.4" r="2.1" fill="#8c8c8c" stroke="#262626" stroke-width="1.0"/>
<circle cx="105.1" cy="408.0" r="2.1" fill="#8c8c8c" stroke="#262626" stroke-width="1.0"/>
<circle cx="106.3" cy="409.5" r="2.1" fill="#8c8c8c" stroke="#262626" stroke-width="1.0"/>
<circle cx="107.5" cy="410.9" r="2.1" fill="#8c8c8c" stroke="#262626" stroke-width="1.0"/>
<circle cx="108.6" cy="412.4" r="2.1" fill="#8c8c8c" stroke="#262626" stroke-width="1.0"/>
<circle cx="109.9" cy="413.8" r="2.1" fill="#8c8c8c" stroke="#262626" stroke-width="1.0"/>
<circle cx="111.3" cy="415.1" r="2.1" fill="#8c8c8c" stroke="#262626" stroke-width="1.0"/>
<circle cx="112.7" cy="416.5" r="2.1" fill="#8c8c8c" stroke="#262626" stroke-width="1.0"/>
<circle cx="113.7" cy="418.0" r="2.1" fill="#8c8c8c" stroke="#262626" stroke-width="1.0"/>
<circle cx="114.7" cy="419.7" r="2.1" fill="#8c8c8c" stroke="#262626" stroke-width="1.0"/>
<circle cx="115.7" cy="421.3" r="2.1" fill="#8c8c8c" stroke="#262626" stroke-width="1.0"/>
<circle cx="116.4" cy="423.0" r="2.1" fill="#8c8c8c" stroke="#262626" stroke-width="1.0"/>
<circle cx="117.1" cy="424.8" r="2.1" fill="#8c8c8c" stroke="#262626" stroke-width="1.0"/>
<circle cx="117.8" cy="426.6" r="2.1" fill="#8c8c8c" stroke="#262626" stroke-width="1.0"/>
<circle cx="118.6" cy="428.3" r="2.1" fill="#8c8c8c" stroke="#262626" stroke-width="1.0"/>
<circle cx="119.3" cy="430.1" r="2.1" fill="#8c8c8c" stroke="#262626" stroke-width="1.0"/>
<circle cx="120.0" cy="431.8" r="2.1" fill="#8c8c8c" stroke="#262626" stroke-width="1.0"/>
<circle cx="120.8" cy="433.5" r="2.1" fill="#8c8c8c" stroke="#262626" stroke-width="1.0"/>
<circle cx="121.7" cy="435.2" r="2.1" fill="#8c8c8c" stroke="#262626" stroke-width="1.0"/>
<circle cx="122.5" cy="436.9" r="2.1" fill="#8c8c8c" stroke="#262626" stroke-width="1.0"/>
<circle cx="123.4" cy="438.6" r="2.1" fill="#8c8c8c" stroke="#262626" stroke-width="1.0"/>
<circle cx="124.3" cy="440.3" r="2.1" fill="#8c8c8c" stroke="#262626" stroke-width="1.0"/>
<circle cx="125.3" cy="441.9" r="2.1" fill="#8c8c8c" stroke="#262626" stroke-width="1.0"/>
<circle cx="126.2" cy="443.6" r="2.1" fill="#8c8c8c" stroke="#262626" stroke-width="1.0"/>
<circle cx="126.8" cy="445.4" r="2.1" fill="#8c8c8c" stroke="#262626" stroke-width="1.0"/>
<circle cx="127.4" cy="447.2" r="2.1" fill="#8c8c8c" stroke="#262626" stroke-width="1.0"/>
<circle cx="128.0" cy="449.0" r="2.1" fill="#8c8c8c" stroke="#262626" stroke-width="1.0"/>
<circle cx="128.7" cy="450.8" r="2.1" fill="#8c8c8c" stroke="#262626" stroke-width="1.0"/>
<circle cx="129.3" cy="452.6" r="2.1" fill="#8c8c8c" stroke="#262626" stroke-width="1.0"/>
<circle cx="129.9" cy="454.4" r="2.1" fill="#8c8c8c" stroke="#262626" stroke-width="1.0"/>
<circle cx="130.6" cy="456.1" r="2.1" fill="#8c8c8c" stroke="#262626" stroke-width="1.0"/>
<circle cx="132.1" cy="457.3" r="2.1" fill="#8c8c8c" stroke="#262626" stroke-width="1.0"/>
<circle cx="133.6" cy="458.5" r="2.1" fill="#8c8c8c" stroke="#262626" stroke-width="1.0"/>
<circle cx="135.1" cy="459.6" r="2.1" fill="#8c8c8c" stroke="#262626" stroke-width="1.0"/>
<circle cx="136.1" cy="461.1" r="2.1" fill="#8c8c8c" stroke="#262626" stroke-width="1.0"/>
<circle cx="136.6" cy="462.9" r="2.1" fill="#8c8c8c" stroke="#262626" stroke-width="1.0"/>
<circle cx="137.2" cy="464.8" r="2.1" fill="#8c8c8c" stroke="#262626" stroke-width="1.0"/>
<circle cx="137.8" cy="466.6" r="2.1" fill="#8c8c8c" stroke="#262626" stroke-width="1.0"/>
<circle cx="138.4" cy="468.4" r="2.1" fill="#8c8c8c" stroke="#262626" stroke-width="1.0"/>
<circle cx="139.1" cy="470.1" r="2.1" fill="#8c8c8c" stroke="#262626" stroke-width="1.0"/>
<circle cx="139.8" cy="471.9" r="2.1" fill="#8c8c8c" stroke="#262626" stroke-width="1.0"/>
<circle cx="140.5" cy="473.6" r="2.1" fill="#8c8c8c" stroke="#262626" stroke-width="1.0"/>
<circle cx="141.9" cy="475.0" r="2.1" fill="#8c8c8c" stroke="#262626" stroke-width="1.0"/>
<circle cx="143.2" cy="476.3" r="2.1" fill="#8c8c8c" stroke="#262626" stroke-width="1.0"/>
<circle cx="144.6" cy="477.7" r="2.1" fill="#8c8c8c" stroke="#262626" stroke-width="1.0"/>
<circle cx="145.4" cy="479.3" r="2.1" fill="#8c8c8c" stroke="#262626" stroke-width="1.0"/>
<circle cx="145.9" cy="481.2" r="2.0" fill="#bdbdbd" stroke="#333" stroke-width="0.95"/>
<circle cx="146.4" cy="483.0" r="2.0" fill="#bdbdbd" stroke="#333" stroke-width="0.95"/>
<circle cx="146.9" cy="484.8" r="2.0" fill="#bdbdbd" stroke="#333" stroke-width="0.95"/>
<circle cx="147.7" cy="486.5" r="2.0" fill="#bdbdbd" stroke="#333" stroke-width="0.95"/>
<circle cx="149.2" cy="487.7" r="2.0" fill="#bdbdbd" stroke="#333" stroke-width="0.95"/>
<circle cx="150.6" cy="488.9" r="2.0" fill="#bdbdbd" stroke="#333" stroke-width="0.95"/>
<circle cx="152.1" cy="490.0" r="2.0" fill="#bdbdbd" stroke="#333" stroke-width="0.95"/>
<circle cx="153.5" cy="491.4" r="2.0" fill="#bdbdbd" stroke="#333" stroke-width="0.95"/>
<circle cx="154.5" cy="492.9" r="2.0" fill="#bdbdbd" stroke="#333" stroke-width="0.95"/>
<circle cx="155.6" cy="494.5" r="2.0" fill="#bdbdbd" stroke="#333" stroke-width="0.95"/>
<circle cx="156.6" cy="496.1" r="2.0" fill="#bdbdbd" stroke="#333" stroke-width="0.95"/>
<circle cx="157.7" cy="497.7" r="2.0" fill="#bdbdbd" stroke="#333" stroke-width="0.95"/>
<circle cx="159.2" cy="498.8" r="2.0" fill="#bdbdbd" stroke="#333" stroke-width="0.95"/>
<circle cx="160.8" cy="499.8" r="2.0" fill="#bdbdbd" stroke="#333" stroke-width="0.95"/>
<circle cx="162.4" cy="500.9" r="2.0" fill="#bdbdbd" stroke="#333" stroke-width="0.95"/>
<circle cx="163.9" cy="502.0" r="2.0" fill="#bdbdbd" stroke="#333" stroke-width="0.95"/>
<circle cx="165.4" cy="503.2" r="2.0" fill="#bdbdbd" stroke="#333" stroke-width="0.95"/>
<circle cx="166.9" cy="504.4" r="2.0" fill="#bdbdbd" stroke="#333" stroke-width="0.95"/>
<circle cx="168.3" cy="505.6" r="2.0" fill="#bdbdbd" stroke="#333" stroke-width="0.95"/>
<circle cx="169.8" cy="506.9" r="2.0" fill="#bdbdbd" stroke="#333" stroke-width="0.95"/>
<circle cx="171.2" cy="508.1" r="2.0" fill="#bdbdbd" stroke="#333" stroke-width="0.95"/>
<circle cx="172.6" cy="509.4" r="2.0" fill="#bdbdbd" stroke="#333" stroke-width="0.95"/>
<circle cx="174.0" cy="510.6" r="2.0" fill="#bdbdbd" stroke="#333" stroke-width="0.95"/>
<circle cx="175.5" cy="511.9" r="2.0" fill="#bdbdbd" stroke="#333" stroke-width="0.95"/>
<circle cx="176.9" cy="513.1" r="2.0" fill="#bdbdbd" stroke="#333" stroke-width="0.95"/>
<circle cx="178.0" cy="514.7" r="2.0" fill="#bdbdbd" stroke="#333" stroke-width="0.95"/>
<circle cx="179.0" cy="516.3" r="2.0" fill="#bdbdbd" stroke="#333" stroke-width="0.95"/>
<circle cx="180.0" cy="517.9" r="2.0" fill="#bdbdbd" stroke="#333" stroke-width="0.95"/>
<circle cx="180.9" cy="519.5" r="2.0" fill="#bdbdbd" stroke="#333" stroke-width="0.95"/>
<circle cx="181.6" cy="521.3" r="2.0" fill="#bdbdbd" stroke="#333" stroke-width="0.95"/>
<circle cx="182.3" cy="523.1" r="2.0" fill="#bdbdbd" stroke="#333" stroke-width="0.95"/>
<circle cx="183.0" cy="524.8" r="2.0" fill="#bdbdbd" stroke="#333" stroke-width="0.95"/>
<circle cx="183.7" cy="526.6" r="2.0" fill="#bdbdbd" stroke="#333" stroke-width="0.95"/>
<circle cx="184.4" cy="528.4" r="2.0" fill="#bdbdbd" stroke="#333" stroke-width="0.95"/>
<circle cx="185.3" cy="530.1" r="2.0" fill="#bdbdbd" stroke="#333" stroke-width="0.95"/>
<circle cx="186.2" cy="531.7" r="2.0" fill="#bdbdbd" stroke="#333" stroke-width="0.95"/>
<circle cx="187.1" cy="533.4" r="2.0" fill="#bdbdbd" stroke="#333" stroke-width="0.95"/>
<circle cx="188.1" cy="535.1" r="2.0" fill="#bdbdbd" stroke="#333" stroke-width="0.95"/>
<circle cx="189.0" cy="536.7" r="2.0" fill="#bdbdbd" stroke="#333" stroke-width="0.95"/>
<circle cx="190.2" cy="538.1" r="2.0" fill="#bdbdbd" stroke="#333" stroke-width="0.95"/>
<circle cx="191.8" cy="539.2" r="2.0" fill="#bdbdbd" stroke="#333" stroke-width="0.95"/>
<circle cx="193.3" cy="540.3" r="2.0" fill="#bdbdbd" stroke="#333" stroke-width="0.95"/>
<circle cx="194.9" cy="541.4" r="2.0" fill="#bdbdbd" stroke="#333" stroke-width="0.95"/>
<circle cx="196.4" cy="542.5" r="2.0" fill="#bdbdbd" stroke="#333" stroke-width="0.95"/>
<circle cx="197.4" cy="544.1" r="2.0" fill="#bdbdbd" stroke="#333" stroke-width="0.95"/>
<circle cx="198.4" cy="545.7" r="2.0" fill="#bdbdbd" stroke="#333" stroke-width="0.95"/>
<circle cx="199.5" cy="547.3" r="2.0" fill="#bdbdbd" stroke="#333" stroke-width="0.95"/>
<circle cx="200.5" cy="548.9" r="2.0" fill="#bdbdbd" stroke="#333" stroke-width="0.95"/>
<circle cx="201.6" cy="550.5" r="2.0" fill="#bdbdbd" stroke="#333" stroke-width="0.95"/>
<circle cx="202.8" cy="551.9" r="2.0" fill="#bdbdbd" stroke="#333" stroke-width="0.95"/>
<circle cx="204.2" cy="553.2" r="2.0" fill="#bdbdbd" stroke="#333" stroke-width="0.95"/>
<circle cx="205.5" cy="554.6" r="2.0" fill="#bdbdbd" stroke="#333" stroke-width="0.95"/>
<circle cx="206.9" cy="555.9" r="2.0" fill="#bdbdbd" stroke="#333" stroke-width="0.95"/>
<circle cx="208.2" cy="557.2" r="2.0" fill="#bdbdbd" stroke="#333" stroke-width="0.95"/>
<circle cx="209.2" cy="558.9" r="2.0" fill="#bdbdbd" stroke="#333" stroke-width="0.95"/>
<circle cx="209.9" cy="560.6" r="2.0" fill="#bdbdbd" stroke="#333" stroke-width="0.95"/>
<circle cx="211.5" cy="561.0" r="2.0" fill="#bdbdbd" stroke="#333" stroke-width="0.95"/>
<circle cx="213.4" cy="561.0" r="2.0" fill="#bdbdbd" stroke="#333" stroke-width="0.95"/>
<circle cx="215.3" cy="561.0" r="2.0" fill="#bdbdbd" stroke="#333" stroke-width="0.95"/>
<circle cx="216.6" cy="562.4" r="2.0" fill="#bdbdbd" stroke="#333" stroke-width="0.95"/>
<circle cx="217.8" cy="563.8" r="2.0" fill="#bdbdbd" stroke="#333" stroke-width="0.95"/>
<circle cx="219.1" cy="565.2" r="2.0" fill="#bdbdbd" stroke="#333" stroke-width="0.95"/>
<circle cx="220.4" cy="566.6" r="2.0" fill="#bdbdbd" stroke="#333" stroke-width="0.95"/>
<circle cx="221.7" cy="567.9" r="2.0" fill="#bdbdbd" stroke="#333" stroke-width="0.95"/>
<circle cx="223.1" cy="569.3" r="2.0" fill="#bdbdbd" stroke="#333" stroke-width="0.95"/>
<circle cx="224.4" cy="570.6" r="2.0" fill="#bdbdbd" stroke="#333" stroke-width="0.95"/>
<circle cx="225.6" cy="572.1" r="2.0" fill="#bdbdbd" stroke="#333" stroke-width="0.95"/>
<circle cx="226.6" cy="573.7" r="2.0" fill="#bdbdbd" stroke="#333" stroke-width="0.95"/>
<circle cx="227.6" cy="575.4" r="2.0" fill="#bdbdbd" stroke="#333" stroke-width="0.95"/>
<circle cx="228.9" cy="576.6" r="2.0" fill="#bdbdbd" stroke="#333" stroke-width="0.95"/>
<circle cx="230.4" cy="577.8" r="2.0" fill="#bdbdbd" stroke="#333" stroke-width="0.95"/>
<circle cx="232.0" cy="578.9" r="2.0" fill="#bdbdbd" stroke="#333" stroke-width="0.95"/>
<circle cx="233.5" cy="580.0" r="2.0" fill="#bdbdbd" stroke="#333" stroke-width="0.95"/>
<circle cx="243.7" cy="582.5" r="1.9" fill="#fff" stroke="#444" stroke-width="0.8"/>
<circle cx="258.2" cy="586.0" r="1.9" fill="#fff" stroke="#444" stroke-width="0.8"/>
<circle cx="261.0" cy="588.8" r="1.9" fill="#fff" stroke="#444" stroke-width="0.8"/>
<circle cx="271.1" cy="592.3" r="1.9" fill="#fff" stroke="#444" stroke-width="0.8"/>
<circle cx="305.2" cy="596.0" r="1.9" fill="#fff" stroke="#444" stroke-width="0.8"/>
<circle cx="345.6" cy="599.8" r="1.9" fill="#fff" stroke="#444" stroke-width="0.8"/>
<circle cx="366.3" cy="605.6" r="1.9" fill="#fff" stroke="#444" stroke-width="0.8"/>
<circle cx="367.0" cy="610.4" r="1.9" fill="#fff" stroke="#444" stroke-width="0.8"/>
<circle cx="463.9" cy="615.0" r="1.9" fill="#fff" stroke="#444" stroke-width="0.8"/>
<circle cx="88.8" cy="386.3" r="2.05" fill="#e4000f" stroke="#c0000c" stroke-width="0.5"/>
<circle cx="89.6" cy="389.7" r="2.05" fill="#e4000f" stroke="#c0000c" stroke-width="0.5"/>
<circle cx="90.1" cy="393.2" r="2.05" fill="#e4000f" stroke="#c0000c" stroke-width="0.5"/>
<circle cx="90.6" cy="396.6" r="2.05" fill="#e4000f" stroke="#c0000c" stroke-width="0.5"/>
<circle cx="91.1" cy="400.1" r="2.05" fill="#e4000f" stroke="#c0000c" stroke-width="0.5"/>
<circle cx="91.6" cy="403.6" r="2.05" fill="#e4000f" stroke="#c0000c" stroke-width="0.5"/>
<circle cx="92.2" cy="407.0" r="2.05" fill="#e4000f" stroke="#c0000c" stroke-width="0.5"/>
<circle cx="92.9" cy="410.4" r="2.05" fill="#e4000f" stroke="#c0000c" stroke-width="0.5"/>
<circle cx="94.2" cy="413.6" r="2.05" fill="#e4000f" stroke="#c0000c" stroke-width="0.5"/>
<circle cx="95.7" cy="416.7" r="2.05" fill="#e4000f" stroke="#c0000c" stroke-width="0.5"/>
<circle cx="96.2" cy="420.2" r="2.05" fill="#e4000f" stroke="#c0000c" stroke-width="0.5"/>
<circle cx="96.6" cy="423.7" r="2.05" fill="#e4000f" stroke="#c0000c" stroke-width="0.5"/>
<circle cx="97.6" cy="427.0" r="2.05" fill="#e4000f" stroke="#c0000c" stroke-width="0.5"/>
<circle cx="99.2" cy="430.1" r="2.05" fill="#e4000f" stroke="#c0000c" stroke-width="0.5"/>
<circle cx="101.6" cy="432.5" r="2.05" fill="#e4000f" stroke="#c0000c" stroke-width="0.5"/>
<circle cx="102.7" cy="435.8" r="2.05" fill="#e4000f" stroke="#c0000c" stroke-width="0.5"/>
<circle cx="103.3" cy="439.2" r="2.05" fill="#e4000f" stroke="#c0000c" stroke-width="0.5"/>
<circle cx="103.9" cy="442.6" r="2.05" fill="#e4000f" stroke="#c0000c" stroke-width="0.5"/>
<circle cx="104.4" cy="446.1" r="2.05" fill="#e4000f" stroke="#c0000c" stroke-width="0.5"/>
<circle cx="105.0" cy="449.6" r="2.05" fill="#e4000f" stroke="#c0000c" stroke-width="0.5"/>
<circle cx="106.0" cy="452.9" r="2.05" fill="#e4000f" stroke="#c0000c" stroke-width="0.5"/>
<circle cx="107.5" cy="456.0" r="2.05" fill="#e4000f" stroke="#c0000c" stroke-width="0.5"/>
<circle cx="109.0" cy="459.2" r="2.05" fill="#e4000f" stroke="#c0000c" stroke-width="0.5"/>
<circle cx="110.0" cy="462.5" r="2.05" fill="#e4000f" stroke="#c0000c" stroke-width="0.5"/>
<circle cx="110.6" cy="465.9" r="2.05" fill="#e4000f" stroke="#c0000c" stroke-width="0.5"/>
<circle cx="111.1" cy="469.4" r="2.05" fill="#e4000f" stroke="#c0000c" stroke-width="0.5"/>
<circle cx="111.6" cy="472.9" r="2.05" fill="#e4000f" stroke="#c0000c" stroke-width="0.5"/>
<circle cx="111.9" cy="476.4" r="2.05" fill="#e4000f" stroke="#c0000c" stroke-width="0.5"/>
<circle cx="112.3" cy="479.8" r="2.05" fill="#e4000f" stroke="#c0000c" stroke-width="0.5"/>
<circle cx="112.6" cy="483.3" r="2.05" fill="#e4000f" stroke="#c0000c" stroke-width="0.5"/>
<circle cx="112.9" cy="486.8" r="2.05" fill="#e4000f" stroke="#c0000c" stroke-width="0.5"/>
<circle cx="113.1" cy="490.3" r="2.05" fill="#e4000f" stroke="#c0000c" stroke-width="0.5"/>
<circle cx="113.3" cy="493.8" r="2.05" fill="#e4000f" stroke="#c0000c" stroke-width="0.5"/>
<circle cx="114.0" cy="497.2" r="2.05" fill="#e4000f" stroke="#c0000c" stroke-width="0.5"/>
<circle cx="114.7" cy="500.6" r="2.05" fill="#e4000f" stroke="#c0000c" stroke-width="0.5"/>
<circle cx="115.5" cy="504.1" r="2.05" fill="#e4000f" stroke="#c0000c" stroke-width="0.5"/>
<circle cx="116.3" cy="507.5" r="2.05" fill="#e4000f" stroke="#c0000c" stroke-width="0.5"/>
<circle cx="117.1" cy="510.9" r="2.05" fill="#e4000f" stroke="#c0000c" stroke-width="0.5"/>
<circle cx="118.7" cy="514.0" r="2.05" fill="#e4000f" stroke="#c0000c" stroke-width="0.5"/>
<circle cx="120.4" cy="517.0" r="2.05" fill="#e4000f" stroke="#c0000c" stroke-width="0.5"/>
<circle cx="122.3" cy="519.9" r="2.05" fill="#e4000f" stroke="#c0000c" stroke-width="0.5"/>
<circle cx="125.0" cy="522.2" r="2.05" fill="#e4000f" stroke="#c0000c" stroke-width="0.5"/>
<circle cx="127.3" cy="524.7" r="2.05" fill="#e4000f" stroke="#c0000c" stroke-width="0.5"/>
<circle cx="128.9" cy="527.8" r="2.05" fill="#e4000f" stroke="#c0000c" stroke-width="0.5"/>
<circle cx="130.4" cy="531.0" r="2.05" fill="#e4000f" stroke="#c0000c" stroke-width="0.5"/>
<circle cx="131.9" cy="534.1" r="2.05" fill="#e4000f" stroke="#c0000c" stroke-width="0.5"/>
<circle cx="132.9" cy="537.5" r="2.05" fill="#e4000f" stroke="#c0000c" stroke-width="0.5"/>
<circle cx="133.9" cy="540.8" r="2.05" fill="#e4000f" stroke="#c0000c" stroke-width="0.5"/>
<circle cx="135.1" cy="544.1" r="2.05" fill="#e4000f" stroke="#c0000c" stroke-width="0.5"/>
<circle cx="136.7" cy="547.2" r="2.05" fill="#e4000f" stroke="#c0000c" stroke-width="0.5"/>
<circle cx="138.3" cy="550.4" r="2.05" fill="#e4000f" stroke="#c0000c" stroke-width="0.5"/>
<circle cx="139.3" cy="553.7" r="2.05" fill="#e4000f" stroke="#c0000c" stroke-width="0.5"/>
<circle cx="140.3" cy="557.1" r="2.05" fill="#e4000f" stroke="#c0000c" stroke-width="0.5"/>
<circle cx="141.3" cy="560.4" r="2.05" fill="#e4000f" stroke="#c0000c" stroke-width="0.5"/>
<circle cx="144.8" cy="560.4" r="2.05" fill="#e4000f" stroke="#c0000c" stroke-width="0.5"/>
<circle cx="148.1" cy="560.7" r="2.05" fill="#e4000f" stroke="#c0000c" stroke-width="0.5"/>
<circle cx="149.2" cy="564.0" r="2.05" fill="#e4000f" stroke="#c0000c" stroke-width="0.5"/>
<circle cx="150.6" cy="567.2" r="2.05" fill="#e4000f" stroke="#c0000c" stroke-width="0.5"/>
<circle cx="152.6" cy="570.1" r="2.05" fill="#e4000f" stroke="#c0000c" stroke-width="0.5"/>
<circle cx="154.5" cy="573.0" r="2.05" fill="#e4000f" stroke="#c0000c" stroke-width="0.5"/>
<circle cx="156.5" cy="575.9" r="2.05" fill="#e4000f" stroke="#c0000c" stroke-width="0.5"/>
<circle cx="157.7" cy="579.0" r="2.05" fill="#e4000f" stroke="#c0000c" stroke-width="0.5"/>
<circle cx="160.6" cy="579.6" r="2.05" fill="#e4000f" stroke="#c0000c" stroke-width="0.5"/>
<circle cx="164.1" cy="579.6" r="2.05" fill="#e4000f" stroke="#c0000c" stroke-width="0.5"/>
<circle cx="166.4" cy="581.6" r="2.05" fill="#e4000f" stroke="#c0000c" stroke-width="0.5"/>
<circle cx="168.1" cy="584.7" r="2.05" fill="#e4000f" stroke="#c0000c" stroke-width="0.5"/>
<circle cx="170.1" cy="587.5" r="2.05" fill="#e4000f" stroke="#c0000c" stroke-width="0.5"/>
<circle cx="171.7" cy="590.6" r="2.05" fill="#e4000f" stroke="#c0000c" stroke-width="0.5"/>
<circle cx="173.0" cy="593.8" r="2.05" fill="#e4000f" stroke="#c0000c" stroke-width="0.5"/>
<circle cx="175.8" cy="596.0" r="2.05" fill="#e4000f" stroke="#c0000c" stroke-width="0.5"/>
<circle cx="191.2" cy="601.2" r="2.2" fill="#e0000c" stroke="#b0000c" stroke-width="0.4"/>
<circle cx="201.2" cy="605.0" r="2.2" fill="#e0000c" stroke="#b0000c" stroke-width="0.4"/>
<circle cx="282.7" cy="615.5" r="2.2" fill="#e0000c" stroke="#b0000c" stroke-width="0.4"/>
<polygon points="102.9,390.1 107.5,390.1 105.2,385.8" fill="#fff" stroke="#444" stroke-width="0.8"/>
<polygon points="110.6,395.2 115.2,395.2 112.9,390.9" fill="#fff" stroke="#444" stroke-width="0.8"/>
<polygon points="113.5,401.2 118.1,401.2 115.8,396.9" fill="#fff" stroke="#444" stroke-width="0.8"/>
<polygon points="116.4,404.8 121.0,404.8 118.7,400.5" fill="#fff" stroke="#444" stroke-width="0.8"/>
<polygon points="154.8,409.5 159.4,409.5 157.1,405.2" fill="#fff" stroke="#444" stroke-width="0.8"/>
<polygon points="157.7,413.5 162.3,413.5 160.0,409.2" fill="#fff" stroke="#444" stroke-width="0.8"/>
<polygon points="166.4,419.5 171.0,419.5 168.7,415.2" fill="#fff" stroke="#444" stroke-width="0.8"/>
<polygon points="191.4,425.3 196.1,425.3 193.8,420.9" fill="#fff" stroke="#444" stroke-width="0.8"/>
<polygon points="225.2,431.8 229.8,431.8 227.5,427.4" fill="#fff" stroke="#444" stroke-width="0.8"/>
<polygon points="245.7,439.0 250.3,439.0 248.0,434.7" fill="#fff" stroke="#444" stroke-width="0.8"/>
<polygon points="276.2,448.5 280.8,448.5 278.5,444.2" fill="#fff" stroke="#444" stroke-width="0.8"/>
<polygon points="380.8,482.5 385.4,482.5 383.1,478.2" fill="#fff" stroke="#444" stroke-width="0.8"/>
<polygon points="386.7,516.0 391.3,516.0 389.0,511.7" fill="#fff" stroke="#444" stroke-width="0.8"/>
<polygon points="437.1,617.0 441.7,617.0 439.4,612.7" fill="#fff" stroke="#444" stroke-width="0.8"/>
<polygon points="95.8,390.2 100.2,390.2 98.0,386.0" fill="#000" stroke="#000" stroke-width="0.6"/>
<polygon points="100.1,393.2 104.5,393.2 102.3,389.0" fill="#000" stroke="#000" stroke-width="0.6"/>
<polygon points="107.8,396.6 112.2,396.6 110.0,392.4" fill="#000" stroke="#000" stroke-width="0.6"/>
<polygon points="126.5,400.4 130.9,400.4 128.8,396.2" fill="#000" stroke="#000" stroke-width="0.6"/>
<polygon points="127.3,404.2 131.7,404.2 129.5,400.0" fill="#000" stroke="#000" stroke-width="0.6"/>
<polygon points="128.3,408.2 132.7,408.2 130.5,404.0" fill="#000" stroke="#000" stroke-width="0.6"/>
<polygon points="129.8,411.2 134.2,411.2 132.0,407.0" fill="#000" stroke="#000" stroke-width="0.6"/>
<polygon points="134.8,413.9 139.2,413.9 137.0,409.7" fill="#000" stroke="#000" stroke-width="0.6"/>
<polygon points="137.6,418.7 142.0,418.7 139.8,414.5" fill="#000" stroke="#000" stroke-width="0.6"/>
<polygon points="138.6,422.5 143.0,422.5 140.8,418.3" fill="#000" stroke="#000" stroke-width="0.6"/>
<polygon points="138.6,426.0 143.0,426.0 140.8,421.8" fill="#000" stroke="#000" stroke-width="0.6"/>
<polygon points="150.5,429.9 154.9,429.9 152.7,425.7" fill="#000" stroke="#000" stroke-width="0.6"/>
<polygon points="153.4,433.9 157.8,433.9 155.6,429.7" fill="#000" stroke="#000" stroke-width="0.6"/>
<polygon points="160.9,437.4 165.3,437.4 163.1,433.2" fill="#000" stroke="#000" stroke-width="0.6"/>
<polygon points="164.3,442.0 168.7,442.0 166.5,437.8" fill="#000" stroke="#000" stroke-width="0.6"/>
<polygon points="164.9,444.9 169.3,444.9 167.1,440.7" fill="#000" stroke="#000" stroke-width="0.6"/>
<polygon points="169.0,448.9 173.4,448.9 171.2,444.7" fill="#000" stroke="#000" stroke-width="0.6"/>
<polygon points="173.6,452.9 178.0,452.9 175.8,448.7" fill="#000" stroke="#000" stroke-width="0.6"/>
<polygon points="175.3,456.4 179.7,456.4 177.5,452.2" fill="#000" stroke="#000" stroke-width="0.6"/>
<polygon points="178.8,460.4 183.2,460.4 181.0,456.2" fill="#000" stroke="#000" stroke-width="0.6"/>
<polygon points="184.0,464.5 188.4,464.5 186.2,460.3" fill="#000" stroke="#000" stroke-width="0.6"/>
<polygon points="191.5,468.5 195.9,468.5 193.7,464.3" fill="#000" stroke="#000" stroke-width="0.6"/>
<polygon points="195.9,472.0 200.3,472.0 198.1,467.8" fill="#000" stroke="#000" stroke-width="0.6"/>
<polygon points="198.8,476.8 203.2,476.8 201.0,472.6" fill="#000" stroke="#000" stroke-width="0.6"/>
<polygon points="202.6,480.6 207.0,480.6 204.8,476.4" fill="#000" stroke="#000" stroke-width="0.6"/>
<polygon points="204.5,485.4 208.9,485.4 206.7,481.2" fill="#000" stroke="#000" stroke-width="0.6"/>
<polygon points="206.5,490.2 210.9,490.2 208.7,486.0" fill="#000" stroke="#000" stroke-width="0.6"/>
<polygon points="208.4,495.0 212.8,495.0 210.6,490.8" fill="#000" stroke="#000" stroke-width="0.6"/>
<polygon points="214.1,498.9 218.5,498.9 216.3,494.7" fill="#000" stroke="#000" stroke-width="0.6"/>
<polygon points="221.8,504.7 226.2,504.7 224.0,500.5" fill="#000" stroke="#000" stroke-width="0.6"/>
<polygon points="237.4,510.2 241.8,510.2 239.6,506.0" fill="#000" stroke="#000" stroke-width="0.6"/>
<polygon points="238.8,515.9 243.2,515.9 241.0,511.7" fill="#000" stroke="#000" stroke-width="0.6"/>
<polygon points="247.2,522.6 251.6,522.6 249.4,518.4" fill="#000" stroke="#000" stroke-width="0.6"/>
<polygon points="252.3,529.4 256.7,529.4 254.5,525.2" fill="#000" stroke="#000" stroke-width="0.6"/>
<polygon points="255.2,536.1 259.6,536.1 257.4,531.9" fill="#000" stroke="#000" stroke-width="0.6"/>
<polygon points="263.5,543.5 267.9,543.5 265.7,539.3" fill="#000" stroke="#000" stroke-width="0.6"/>
<text x="147.1" y="581.9" font-size="10.8" font-weight="bold" font-style="normal" text-anchor="middle" fill="#111">High</text>
<text x="147.1" y="594.1" font-size="10.8" font-weight="bold" font-style="normal" text-anchor="middle" fill="#111">N=68</text>
<text x="147.1" y="606.3" font-size="10.8" font-weight="bold" font-style="normal" text-anchor="middle" fill="#111">Median 1.6 yrs</text>
<text x="147.1" y="618.5" font-size="10.8" font-weight="bold" font-style="normal" text-anchor="middle" fill="#111">HR 15.9, 95% CI 8.8-28.8</text>
<text x="324.6" y="499.4" font-size="10.8" font-weight="bold" font-style="normal" text-anchor="middle" fill="#111">Intermediate-1</text>
<text x="324.6" y="512.0" font-size="10.8" font-weight="bold" font-style="normal" text-anchor="middle" fill="#111">N=69</text>
<text x="324.6" y="524.6" font-size="10.8" font-weight="bold" font-style="normal" text-anchor="middle" fill="#111">Median 7.8 yrs</text>
<text x="324.6" y="537.2" font-size="10.8" font-weight="bold" font-style="normal" text-anchor="middle" fill="#111">HR 2.6, 95% CI 1.4-4.9</text>
<text x="438.8" y="484.6" font-size="10.8" font-weight="bold" font-style="normal" text-anchor="middle" fill="#111">Low</text>
<text x="438.8" y="497.4" font-size="10.8" font-weight="bold" font-style="normal" text-anchor="middle" fill="#111">N=52</text>
<text x="438.8" y="510.2" font-size="10.8" font-weight="bold" font-style="normal" text-anchor="middle" fill="#111">Median 17.6 yrs</text>
<text x="400.5" y="559.2" font-size="10.8" font-weight="bold" font-style="normal" text-anchor="middle" fill="#111">Intermediate-2</text>
<text x="400.5" y="572.2" font-size="10.8" font-weight="bold" font-style="normal" text-anchor="middle" fill="#111">N=209</text>
<text x="400.5" y="585.2" font-size="10.8" font-weight="bold" font-style="normal" text-anchor="middle" fill="#111">Median 4.3 yrs</text>
<text x="400.5" y="598.2" font-size="10.8" font-weight="bold" font-style="normal" text-anchor="middle" fill="#111">HR 6.3, 95% CI 3.6-11.0</text>
</svg>
</body></html>
